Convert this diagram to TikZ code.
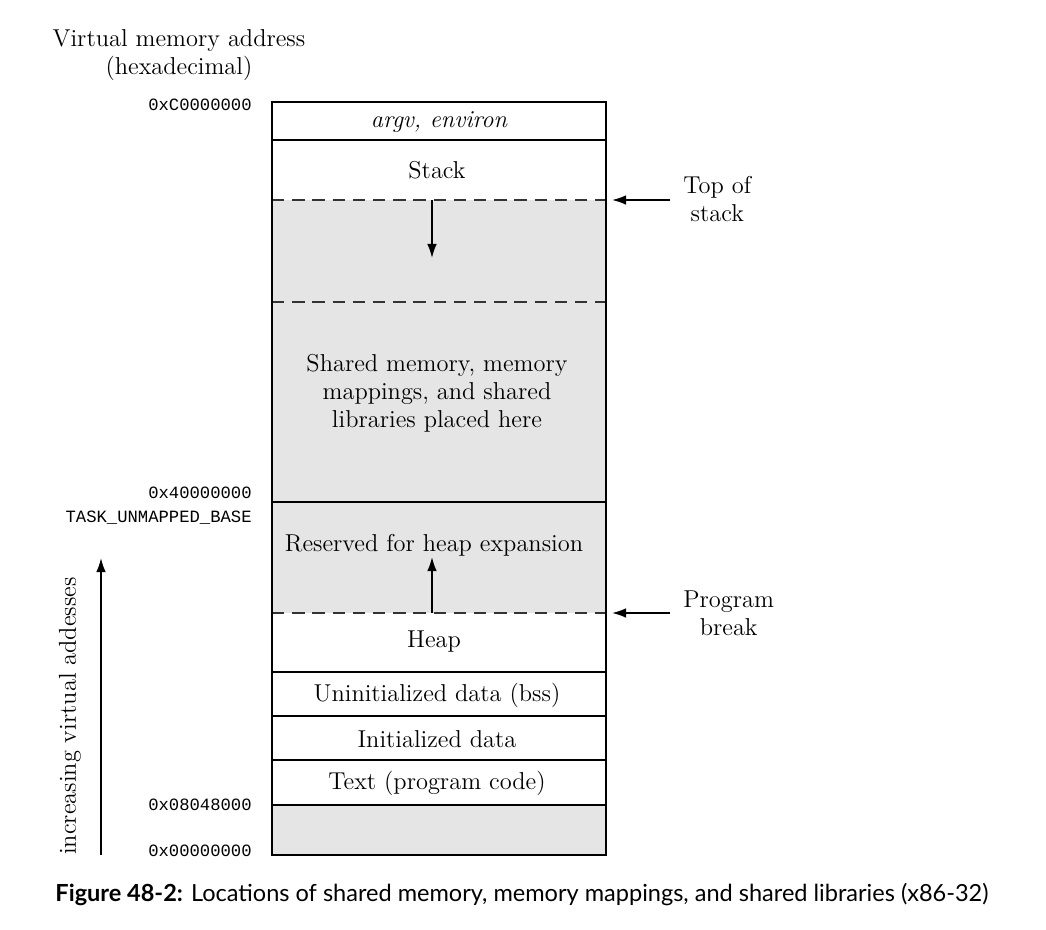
\documentclass[tikz,border=0pt]{standalone}
\usepackage{fontspec}
\setmonofont{Liberation Mono}
\setsansfont{Lato}
\usetikzlibrary{calc, arrows, arrows.meta}
\tikzstyle{lbl}=[font=\fontsize{13.9}{16}\selectfont, align=center, inner sep=0pt]
\tikzstyle{addr}=[font=\ttfamily\fontsize{9.8}{12}\selectfont, anchor=east, inner sep=0pt]
\tikzstyle{sep}=[line width=1.3pt]
\tikzstyle{thin sep}=[line width=0.9pt]
\tikzstyle{brk}=[dashed, dash pattern=on 7pt off 4.5pt, line width=1pt, draw=black!80]
\tikzstyle{mem}=[fill=black!10]
\tikzstyle{ptr}=[->, line width=1pt]

\begin{document}
\begin{tikzpicture}[x=0.02cm, y=-0.02cm, >={Latex[length=8pt,width=5.5pt]}]
      \useasboundingbox (0,0) rectangle (1046,930);
      % unused / free regions
      \fill[mem] (272,200) rectangle (606,613);
      \fill[mem] (272,805) rectangle (606,855);
      % segment boundaries
      \draw[brk] (272,200) -- (606,200);
      \draw[brk] (272,302) -- (606,302);
      \draw[brk] (272,613) -- (606,613);
      \draw[thin sep] (272,502) -- (606,502);
      \draw[sep] (272,140) -- (606,140);
      \draw[sep] (272,672) -- (606,672);
      \draw[sep] (272,716) -- (606,716);
      \draw[sep] (272,760) -- (606,760);
      \draw[sep] (272,805) -- (606,805);
      \draw[sep] (272,102) rectangle (606,855);
      % segment labels
      \node[lbl] (argv) at (439,122) {\itshape argv, environ};
      \node[lbl] (stack) at (437,170) {Stack};
      \node[lbl] (shm) at (437,393) {Shared memory, memory\\mappings, and shared\\libraries placed here};
      \node[lbl] (resv) at (434,545) {Reserved for heap expansion};
      \node[lbl] (heap) at (434,642) {Heap};
      \node[lbl] (bss) at (437,695) {Uninitialized data (bss)};
      \node[lbl] (data) at (437,739) {Initialized data};
      \node[lbl] (text) at (437,783) {Text (program code)};
      % growth directions
      \coordinate (stktop) at (432,200);
      \coordinate (stkgrow) at (432,258);
      \coordinate (brkpt) at (432,613);
      \coordinate (heapgrow) at (432,557);
      \draw[ptr] (stktop) -- (stkgrow);
      \draw[ptr] (brkpt) -- (heapgrow);
      % pointers on the right
      \node[lbl, anchor=west] (tos) at (683,199) {Top of\\stack};
      \node[lbl, anchor=west] (pbrk) at (683,613) {Program\\break};
      \coordinate (tosptr) at (612,200);
      \coordinate (pbrkptr) at (612,613);
      \draw[ptr] ($(tos.west)+(-13,1)$) -- (tosptr);
      \draw[ptr] ($(pbrk.west)+(-13,0)$) -- (pbrkptr);
      % addresses
      \node[lbl] (vma) at (179,55) {Virtual memory address\\(hexadecimal)};
      \node[addr] (a0) at (252,105) {0xC0000000};
      \node[addr] (a1) at (252,493) {0x40000000};
      \node[addr] (a1b) at (252,518) {TASK\_UNMAPPED\_BASE};
      \node[addr] (a2) at (252,805) {0x08048000};
      \node[addr] (a3) at (252,851) {0x00000000};
      % increasing addresses
      \coordinate (incbot) at (101,855);
      \coordinate (inctop) at (101,558);
      \draw[ptr] (incbot) -- (inctop);
      \node[lbl, rotate=90] (inc) at (70,716) {increasing virtual addesses};
      % caption
      \node[font=\sffamily\fontsize{13.4}{15}\selectfont, inner sep=0pt] (cap) at (522,895)
        {\textbf{Figure 48-2:} Locations of shared memory, memory mappings, and shared libraries (x86-32)};
  \end{tikzpicture}
\end{document}
